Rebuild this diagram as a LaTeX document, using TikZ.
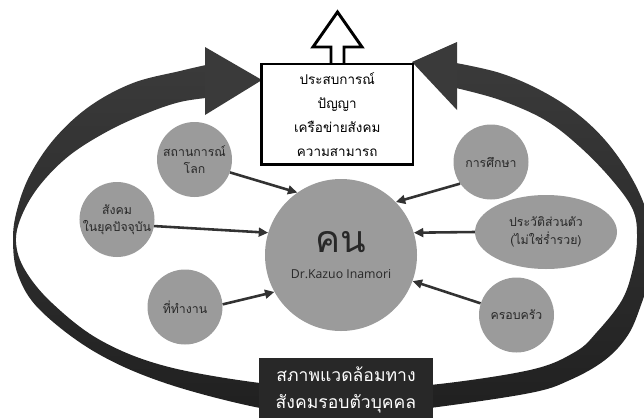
\documentclass[tikz,border=0pt]{standalone}
\usepackage{fontspec}
\newfontfamily\thai[Script=Thai]{Loma}
\newfontfamily\latinf{Open Sans}
\usetikzlibrary{arrows.meta,shapes.geometric}
\definecolor{bandtop}{RGB}{58,58,58}
\definecolor{bandbot}{RGB}{32,32,32}
\definecolor{circc}{RGB}{155,155,155}
\definecolor{txtc}{RGB}{40,40,40}
\definecolor{envc}{RGB}{40,40,40}
\definecolor{connc}{RGB}{50,50,50}
\begin{document}
\begin{tikzpicture}[x=0.03cm,y=-0.03cm,
  bubble/.style={circle,fill=circc,minimum size=2.25cm,inner sep=0pt,align=center,
    font=\thai\fontsize{10.5}{15}\selectfont,text=txtc},
  oval/.style={ellipse,fill=circc,minimum width=4.26cm,minimum height=2.22cm,inner sep=0pt,align=center,
    font=\thai\fontsize{10.5}{15}\selectfont,text=txtc},
  conn/.style={draw=connc,line width=2.2pt,-{Triangle[length=8pt,width=7.5pt]}},
  bandpart/.style={top color=bandtop,bottom color=bandbot}]
\useasboundingbox (0,0) rectangle (644,417);
\clip (0,0) rectangle (644,417);
% left part of the surrounding band
\shade[bandpart] plot[smooth,tension=0.6] coordinates {(206,65) (180,71) (133,83) (90,106) (55,138) (30,175) (17,210) (13,240) (18,275) (40,310) (95,352) (165,383) (260,408) (330,416)}
  -- plot[smooth,tension=0.6] coordinates {(330,387) (260,383) (165,366) (100,340) (52,303) (25,270) (16,242) (22,215) (40,185) (70,155) (110,130) (150,112) (180,102) (206,98)} -- cycle;
% right part of the surrounding band
\shade[bandpart] plot[smooth,tension=0.6] coordinates {(456,63) (500,73) (540,90) (575,112) (605,140) (630,175) (646,210) (652,245) (648,280) (641,305) (628,335) (605,360) (570,380) (530,393) (430,408) (360,415)}
  -- plot[smooth,tension=0.6] coordinates {(360,387) (430,385) (530,370) (575,352) (597,332) (622,300) (633,268) (637,238) (633,210) (612,180) (580,147) (545,120) (500,100) (456,88)} -- cycle;
% band arrowheads
\fill[bandtop] (205,47) -- (262,80) -- (205,115) -- cycle;
\fill[bandtop] (457,42) -- (412,62) -- (457,110) -- cycle;
% outline up arrow
\draw[line width=2.5pt,fill=white,line join=miter] (331,66) -- (331,47) -- (313,47) -- (337.5,12) -- (362,47) -- (344,47) -- (344,66);
% result box
\node[draw=black,line width=2.5pt,fill=white,minimum width=4.545cm,minimum height=3.015cm,inner sep=0pt,
  align=center,font=\thai\fontsize{11.5}{20.5}\selectfont] (box) at (337.25,114.25)
  {ประสบการณ์\\ปัญญา\\เครือข่ายสังคม\\ความสามารถ};
% person
\node[circle,fill=circc,minimum size=4.56cm,inner sep=0pt,align=center,text=txtc] (person) at (341,255)
  {{\thai\fontsize{32}{36}\selectfont คน}\\[10pt]{\latinf\fontsize{10.5}{12}\selectfont Dr.Kazuo Inamori}};
% influences
\node[bubble] (world) at (194.5,159.5) {สถานการณ์\\โลก};
\node[bubble] (society) at (117,219.5) {สังคม\\ในยุคปัจจุบัน};
\node[bubble] (work) at (185,307) {ที่ทำงาน};
\node[bubble] (edu) at (491,162) {การศึกษา};
\node[oval] (bio) at (546,232) {ประวัติส่วนตัว\\(ไม่ใช่ร่ำรวย)};
\node[bubble] (family) at (516.5,315) {ครอบครัว};
\draw[conn] (world.-20) -- (person.125);
\draw[conn] (society.-10) -- (person.163);
\draw[conn] (work.4) -- (person.209);
\draw[conn] (edu.215) -- (person.44);
\draw[conn] (bio.180) -- (person.17);
\draw[conn] (family.162) -- (person.-20);
% environment label
\node[fill=envc,minimum width=5.22cm,minimum height=1.9cm,inner sep=0pt,align=center,text=white,
  font=\thai\fontsize{15}{23}\selectfont] (env) at (346,390) {สภาพแวดล้อมทาง\\สังคมรอบตัวบุคคล};
\end{tikzpicture}
\end{document}
